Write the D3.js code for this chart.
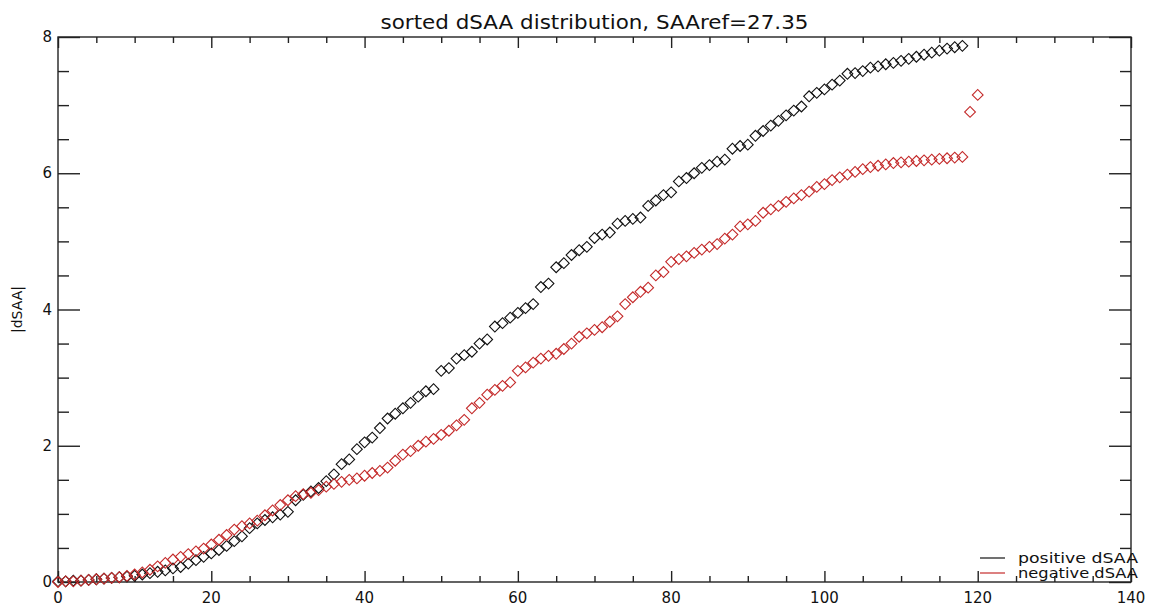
<!DOCTYPE html>
<html>
<head>
<meta charset="utf-8">
<script src="https://cdn.jsdelivr.net/npm/d3@7"></script>
<style>
    body { margin: 0; background: #fff; }
    svg text { font-family: 'DejaVu Sans', sans-serif; fill: #111; }
</style>
</head>
<body>
<svg id="chart" width="1154" height="608"></svg>
<script>
    // sorted |dSAA| values, one per sample index
    var positiveDSAA = [
        0.01, 0.01, 0.02, 0.02, 0.03, 0.04, 0.05, 0.06, 0.07, 0.08,
        0.09, 0.11, 0.13, 0.15, 0.17, 0.20, 0.22, 0.27, 0.32, 0.37,
        0.42, 0.47, 0.53, 0.60, 0.67, 0.79, 0.86, 0.91, 0.95, 0.99,
        1.03, 1.20, 1.28, 1.33, 1.38, 1.48, 1.58, 1.73, 1.80, 1.95,
        2.05, 2.12, 2.26, 2.40, 2.47, 2.55, 2.63, 2.72, 2.80, 2.83,
        3.10, 3.14, 3.28, 3.33, 3.38, 3.50, 3.56, 3.75, 3.80, 3.88,
        3.95, 4.02, 4.08, 4.33, 4.38, 4.62, 4.68, 4.80, 4.87, 4.92,
        5.05, 5.10, 5.13, 5.26, 5.30, 5.33, 5.35, 5.52, 5.60, 5.68,
        5.72, 5.88, 5.93, 6.00, 6.08, 6.12, 6.17, 6.20, 6.36, 6.40,
        6.42, 6.55, 6.62, 6.70, 6.77, 6.85, 6.92, 6.98, 7.13, 7.18,
        7.23, 7.30, 7.36, 7.46, 7.47, 7.50, 7.55, 7.57, 7.60, 7.62,
        7.65, 7.68, 7.71, 7.74, 7.77, 7.80, 7.83, 7.85, 7.87
    ];

    var negativeDSAA = [
        0.00, 0.01, 0.01, 0.02, 0.03, 0.04, 0.05, 0.06, 0.07, 0.09,
        0.11, 0.14, 0.18, 0.23, 0.28, 0.33, 0.37, 0.41, 0.45, 0.49,
        0.55, 0.62, 0.69, 0.77, 0.82, 0.86, 0.90, 0.98, 1.05, 1.13,
        1.20, 1.26, 1.29, 1.31, 1.35, 1.40, 1.44, 1.47, 1.50, 1.52,
        1.56, 1.60, 1.63, 1.68, 1.78, 1.87, 1.92, 2.00, 2.06, 2.10,
        2.16, 2.22, 2.30, 2.38, 2.55, 2.63, 2.75, 2.82, 2.88, 2.93,
        3.10, 3.15, 3.22, 3.28, 3.32, 3.35, 3.42, 3.50, 3.60, 3.65,
        3.70, 3.74, 3.82, 3.90, 4.08, 4.18, 4.26, 4.32, 4.50, 4.55,
        4.70, 4.74, 4.78, 4.83, 4.88, 4.92, 4.96, 5.04, 5.10, 5.22,
        5.25, 5.30, 5.42, 5.47, 5.52, 5.58, 5.63, 5.68, 5.73, 5.80,
        5.84, 5.90, 5.94, 5.98, 6.02, 6.06, 6.09, 6.11, 6.13, 6.15,
        6.16, 6.17, 6.18, 6.19, 6.20, 6.21, 6.22, 6.23, 6.24, 6.90,
        7.15
    ];

    var xMajorTicks = [0, 20, 40, 60, 80, 100, 120, 140],
        yMajorTicks = [0, 2, 4, 6, 8],
        legendLabels = ['positive dSAA', 'negative dSAA'],
        seriesColors = ['#111111', '#c42a2a'];

    var plot = {left: 58, right: 1131, top: 37, bottom: 582};

    var svg = d3.select('#chart');

    var x = d3.scaleLinear().domain([0, 140]).range([plot.left, plot.right]),
        y = d3.scaleLinear().domain([0, 8]).range([plot.bottom, plot.top]);

    function renderFrame() {
        svg.append('rect')
            .attr('x', plot.left)
            .attr('y', plot.top)
            .attr('width', plot.right - plot.left)
            .attr('height', plot.bottom - plot.top)
            .attr('fill', 'none')
            .attr('stroke', '#222')
            .attr('stroke-width', 1.4);
    }

    // IDL style: ticks point inwards on all four sides, no labels on top/right
    function renderAxes() {
        var xMinor = d3.range(0, 141, 5),
            yMinor = d3.range(0, 8.01, 0.5);

        function xLen(d) {
            return d % 20 === 0 ? 11 : 6;
        }
        function yLen(d) {
            return d % 2 === 0 ? 22 : 11;
        }

        var bottomAxis = d3.axisBottom(x).tickValues(xMinor)
            .tickSizeInner(-11).tickSizeOuter(0).tickFormat('');
        var topAxis = d3.axisTop(x).tickValues(xMinor)
            .tickSizeInner(-11).tickSizeOuter(0).tickFormat('');
        var leftAxis = d3.axisLeft(y).tickValues(yMinor)
            .tickSizeInner(-22).tickSizeOuter(0).tickFormat('');
        var rightAxis = d3.axisRight(y).tickValues(yMinor)
            .tickSizeInner(-22).tickSizeOuter(0).tickFormat('');

        var gb = svg.append('g').attr('transform', 'translate(0,' + plot.bottom + ')').call(bottomAxis);
        gb.selectAll('.tick line').attr('y2', function(d) { return -xLen(d); });
        var gt = svg.append('g').attr('transform', 'translate(0,' + plot.top + ')').call(topAxis);
        gt.selectAll('.tick line').attr('y2', function(d) { return xLen(d); });
        var gl = svg.append('g').attr('transform', 'translate(' + plot.left + ',0)').call(leftAxis);
        gl.selectAll('.tick line').attr('x2', function(d) { return yLen(d); });
        var gr = svg.append('g').attr('transform', 'translate(' + plot.right + ',0)').call(rightAxis);
        gr.selectAll('.tick line').attr('x2', function(d) { return -yLen(d); });

        svg.selectAll('.domain').remove();
        svg.selectAll('.tick line').attr('stroke', '#222').attr('stroke-width', 1.4);

        svg.append('g').selectAll('text')
            .data(xMajorTicks)
            .enter()
            .append('text')
                .attr('x', x)
                .attr('y', plot.bottom + 21)
                .attr('text-anchor', 'middle')
                .attr('font-size', 15)
                .text(function(d) { return d; });

        svg.append('g').selectAll('text')
            .data(yMajorTicks)
            .enter()
            .append('text')
                .attr('x', plot.left - 6)
                .attr('y', function(d) { return y(d) + 5; })
                .attr('text-anchor', 'end')
                .attr('font-size', 15)
                .text(function(d) { return d; });

        svg.append('text')
            .attr('transform', 'translate(22,' + ((plot.top + plot.bottom) / 2) + ') rotate(-90)')
            .attr('text-anchor', 'middle')
            .attr('font-size', 14)
            .text('|dSAA|');

        svg.append('text')
            .attr('x', (plot.left + plot.right) / 2)
            .attr('y', 29)
            .attr('text-anchor', 'middle')
            .attr('font-size', 19)
            .attr('textLength', 428)
            .attr('lengthAdjust', 'spacingAndGlyphs')
            .text('sorted dSAA distribution, SAAref=27.35');
    }

    function renderDiamonds(values, color) {
        var symbol = d3.symbol().type(d3.symbolSquare).size(58);

        svg.append('g').selectAll('path')
            .data(values)
            .enter()
            .append('path')
                .attr('d', symbol)
                .attr('transform', function(d, i) {
                    return 'translate(' + x(i) + ',' + y(d) + ') rotate(45)';
                })
                .attr('fill', 'none')
                .attr('stroke', color)
                .attr('stroke-width', 1.1);
    }

    function renderLegend() {
        var g = svg.append('g').selectAll('g')
            .data(legendLabels)
            .enter()
            .append('g');

        g.append('line')
            .attr('x1', 980)
            .attr('x2', 1005)
            .attr('y1', function(d, i) { return 558 + i * 15; })
            .attr('y2', function(d, i) { return 558 + i * 15; })
            .attr('stroke', function(d, i) { return seriesColors[i]; })
            .attr('stroke-width', 1.2);

        g.append('text')
            .attr('x', 1018)
            .attr('y', function(d, i) { return 563 + i * 15; })
            .attr('font-size', 14)
            .attr('textLength', 120)
            .attr('lengthAdjust', 'spacingAndGlyphs')
            .text(function(d) { return d; });
    }

    renderFrame();
    renderAxes();
    renderDiamonds(positiveDSAA, seriesColors[0]);
    renderDiamonds(negativeDSAA, seriesColors[1]);
    renderLegend();
</script>
</body>
</html>
